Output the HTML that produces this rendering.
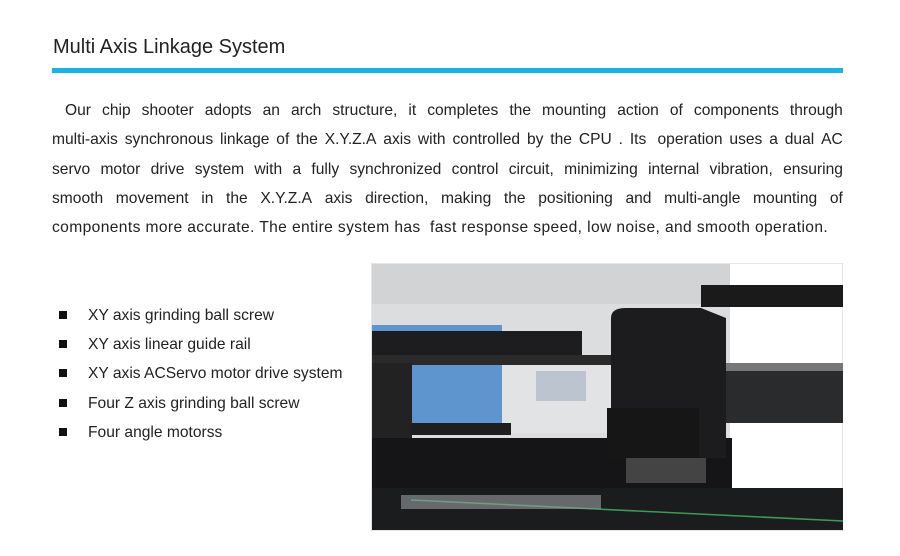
<!DOCTYPE html>
<html><head><meta charset="utf-8"><style>
body{margin:0;background:#fff;width:900px;height:556px;position:relative;overflow:hidden;font-family:"Liberation Sans",sans-serif;color:#222}
.t{position:absolute;left:53px;top:36px;font-size:20px;color:#222}
.bar{position:absolute;left:52px;top:68px;width:791px;height:5px;background:#16b4e8}
.p{position:absolute;left:52px;top:96px;width:791px;font-size:15.6px;line-height:29.3px;color:#222}
.p div{white-space:nowrap;display:flex;justify-content:space-between}
.p div.l{display:block;letter-spacing:0.38px}
ul{position:absolute;left:58px;top:301px;margin:0;padding:0;list-style:none;font-size:15.6px;line-height:29.2px}
li{position:relative;padding-left:30px}
li:before{content:"";position:absolute;left:1px;top:10px;width:8px;height:8px;background:#111}
</style></head><body>
<div class="t">Multi Axis Linkage System</div>
<div class="bar"></div>
<div class="p">
<div><span>&nbsp;&nbsp;&nbsp;Our</span><span>chip</span><span>shooter</span><span>adopts</span><span>an</span><span>arch</span><span>structure,</span><span>it</span><span>completes</span><span>the</span><span>mounting</span><span>action</span><span>of</span><span>components</span><span>through</span></div>
<div><span>multi-axis</span><span>synchronous</span><span>linkage</span><span>of</span><span>the</span><span>X.Y.Z.A</span><span>axis</span><span>with</span><span>controlled</span><span>by</span><span>the</span><span>CPU</span><span>.</span><span>Its&nbsp;</span><span>operation</span><span>uses</span><span>a</span><span>dual</span><span>AC</span></div>
<div><span>servo</span><span>motor</span><span>drive</span><span>system</span><span>with</span><span>a</span><span>fully</span><span>synchronized</span><span>control</span><span>circuit,</span><span>minimizing</span><span>internal</span><span>vibration,</span><span>ensuring</span></div>
<div><span>smooth</span><span>movement</span><span>in</span><span>the</span><span>X.Y.Z.A</span><span>axis</span><span>direction,</span><span>making</span><span>the</span><span>positioning</span><span>and</span><span>multi-angle</span><span>mounting</span><span>of</span></div>
<div class="l">components more accurate. The entire system has &nbsp;fast response speed, low noise, and smooth operation.</div>
</div>
<ul>
<li>XY axis grinding ball screw</li>
<li>XY axis linear guide rail</li>
<li>XY axis ACServo motor drive system</li>
<li>Four Z axis grinding ball screw</li>
<li>Four angle motorss</li>
</ul>
<svg style="position:absolute;left:371px;top:263px" width="472" height="268" viewBox="0 0 472 268">
<rect width="472" height="268" fill="#fff" stroke="#ccc"/>
<rect x="1" y="1" width="358" height="266" fill="#dcdddf"/>
<rect x="1" y="1" width="358" height="40" fill="#d2d3d5"/>
<rect x="1" y="62" width="130" height="110" fill="#5f95cf"/>
<rect x="131" y="100" width="110" height="70" fill="#e2e3e5"/>
<rect x="1" y="68" width="210" height="24" fill="#1d1d1f"/>
<rect x="1" y="92" width="240" height="10" fill="#2a2a2a"/>
<rect x="1" y="100" width="40" height="80" fill="#222"/>
<rect x="40" y="160" width="100" height="12" fill="#1e1e1e"/>
<rect x="165" y="108" width="50" height="30" fill="#bcc5cf"/>
<rect x="1" y="175" width="360" height="50" fill="#151517"/>
<rect x="330" y="22" width="142" height="22" fill="#1a1a1a"/>
<rect x="355" y="100" width="117" height="60" fill="#2a2b2d"/>
<rect x="355" y="100" width="117" height="8" fill="#777"/>
<path d="M240 55 Q240 45 255 45 L330 45 L355 55 L355 195 L240 195 Z" fill="#1c1c1e"/>
<rect x="236" y="145" width="92" height="50" fill="#161617"/>
<rect x="255" y="195" width="80" height="25" fill="#444"/>
<rect x="1" y="225" width="471" height="42" fill="#1b1c1e"/>
<line x1="40" y1="237" x2="472" y2="258" stroke="#3a9a5a" stroke-width="1.5"/>
<rect x="30" y="232" width="200" height="14" fill="#9a9da0" opacity=".6"/>
</svg>
</body></html>
